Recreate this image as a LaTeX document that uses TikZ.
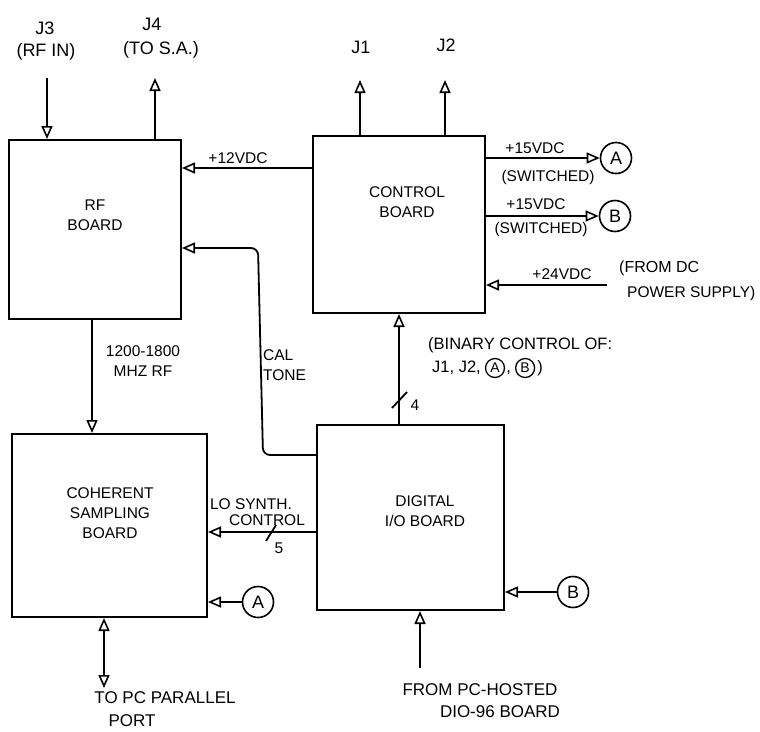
\documentclass[tikz,border=0pt]{standalone}
\usepackage{fontspec}
\setmainfont{Liberation Sans}
\usetikzlibrary{arrows.meta,calc}
\begin{document}
\begin{tikzpicture}[x=1pt,y=-1pt,
  board/.style={draw, line width=2pt, inner sep=0pt},
  lbl/.style={inner sep=0pt, align=center, font=\fontsize{15.5}{20}\selectfont},
  big/.style={lbl, font=\fontsize{18}{22}\selectfont},
  bot/.style={lbl, font=\fontsize{17}{22}\selectfont},
  bin/.style={lbl, font=\fontsize{16.5}{20}\selectfont},
  arr/.style={line width=1.8pt, -{Triangle[open, length=13pt, width=11pt, line width=1.6pt]}},
  darr/.style={line width=1.8pt, {Triangle[open, length=13pt, width=11pt, line width=1.6pt]}-{Triangle[open, length=13pt, width=11pt, line width=1.6pt]}},
  wire/.style={line width=1.8pt},
  circ/.style={draw, circle, line width=1.6pt, minimum size=31pt, inner sep=0pt, font=\fontsize{18}{18}\selectfont},
  smallcirc/.style={draw, circle, line width=1.3pt, minimum size=19pt, inner sep=0pt, font=\fontsize{14}{14}\selectfont}
]
\useasboundingbox (0,0) rectangle (760,731);

% boards
\node[board, minimum width=172pt, minimum height=179pt] (rf) at (95,229.5) {};
\node[board, minimum width=172pt, minimum height=177pt] (ctrl) at (399,224.5) {};
\node[board, minimum width=195pt, minimum height=183pt] (coh) at (109.5,525.5) {};
\node[board, minimum width=187pt, minimum height=185pt] (dig) at (410.5,517.5) {};

\node[lbl] (rft) at (95,215) {RF\\BOARD};
\node[lbl] (ctrlt) at (407,202) {CONTROL\\BOARD};
\node[lbl] (coht) at (110,513) {COHERENT\\SAMPLING\\BOARD};
\node[lbl] (digt) at (425,511) {DIGITAL\\I/O BOARD};

% top connectors
\node[big] (j3t) at (45,28) {J3};
\node[big] (j3s) at (46,52) {(RF IN)};
\node[big] (j4t) at (152,24) {J4};
\node[big] (j4s) at (161,50) {(TO S.A.)};
\node[big] (j1t) at (361,47) {J1};
\node[big] (j2t) at (446,45) {J2};
\coordinate (j3top) at (47,78);
\coordinate (j4top) at (155,78);
\coordinate (j1top) at (360,80);
\coordinate (j2top) at (445,80);
\draw[arr] (j3top) -- (j3top |- rf.north);
\draw[arr] (j4top |- rf.north) -- (j4top);
\draw[arr] (j1top |- ctrl.north) -- (j1top);
\draw[arr] (j2top |- ctrl.north) -- (j2top);

% +12VDC
\coordinate (v12) at (0,168);
\draw[arr] (ctrl.west |- v12) -- (rf.east |- v12);
\node[lbl] (v12t) at (238,158) {+12VDC};

% +15VDC switched outputs
\node[circ] (ca1) at (616,158) {A};
\node[circ] (cb1) at (615,216) {B};
\draw[arr] (ctrl.east |- ca1) -- (ca1.west);
\draw[arr] (ctrl.east |- cb1) -- (cb1.west);
\node[lbl] (v15a) at (535,148) {+15VDC};
\node[lbl] (swa) at (548,177) {(SWITCHED)};
\node[lbl] (v15b) at (536,204) {+15VDC};
\node[lbl] (swb) at (541,229) {(SWITCHED)};

% +24VDC
\coordinate (p24) at (607,285);
\draw[arr] (p24) -- (ctrl.east |- p24);
\node[lbl] (v24) at (562,274) {+24VDC};
\node[lbl, anchor=west, font=\fontsize{16}{20}\selectfont] (fromdc) at (619,268) {(FROM DC};
\node[lbl, anchor=west] (psu) at (627,293) {POWER SUPPLY)};

% RF to coherent
\coordinate (rfx) at (92,0);
\draw[arr] (rf.south -| rfx) -- (coh.north -| rfx);
\node[lbl] (mhz) at (143,361) {1200-1800\\MHZ RF};

% CAL tone
\coordinate (calA) at (0,455);
\coordinate (calB) at (0,248);
\draw[arr, rounded corners=7pt] (dig.west |- calA) -- (263,455) -- (258,248) -- (rf.east |- calB);
\node[lbl, align=left, anchor=west] (calt) at (263,365) {CAL\\ TONE};

% 4-bit bus
\coordinate (b4) at (399,0);
\draw[arr] (dig.north -| b4) -- (ctrl.south -| b4);
\draw[wire] (392,408) -- (407,392);
\node[lbl] (four) at (415,405) {4};
\node[bin, anchor=west] (bint) at (428,345) {(BINARY CONTROL OF:};
\node[bin, anchor=west] (bin2) at (432,368) {J1, J2,};
\node[smallcirc] (ca3) at ($(bin2.east)+(14pt,0)$) {A};
\node[bin, anchor=base west] (comma) at ($(ca3.east |- bin2.base)+(1pt,0)$) {,};
\node[smallcirc] (cb3) at ($(comma.east |- ca3)+(14pt,0)$) {B};
\node[bin, anchor=base west] (cpar) at ($(cb3.east |- bin2.base)+(2pt,0)$) {)};

% LO synth control
\coordinate (lo) at (0,532);
\draw[arr] (dig.west |- lo) -- (coh.east |- lo);
\draw[wire] (266,541) -- (276,525);
\node[lbl] (five) at (279,548) {5};
\node[lbl] (lot) at (251,504) {LO SYNTH.};
\node[lbl] (lot2) at (267,520) {CONTROL};

% A and B inputs
\node[circ] (ca2) at (258,602) {A};
\node[circ] (cb2) at (573,592) {B};
\draw[arr] (ca2.west) -- (coh.east |- ca2);
\draw[arr] (cb2.west) -- (dig.east |- cb2);

% bottom connections
\coordinate (pc) at (104,688);
\draw[darr] (pc) -- (coh.south -| pc);
\node[bot] (pct) at (165,698) {TO PC PARALLEL};
\node[bot] (port) at (132,721) {PORT};
\coordinate (dio) at (420,668);
\draw[arr] (dio) -- (dig.south -| dio);
\node[bot] (fromt) at (480,690) {FROM PC-HOSTED};
\node[bot] (diot) at (500,712) {DIO-96 BOARD};
\end{tikzpicture}
\end{document}
